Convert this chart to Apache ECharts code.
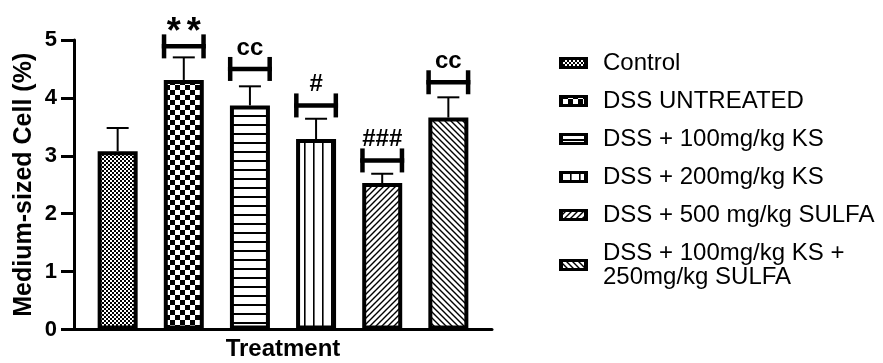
<!DOCTYPE html>
<html>
<head>
<meta charset="utf-8">
<script src="https://cdn.jsdelivr.net/npm/echarts@6/dist/echarts.min.js"></script>
<style>
  html, body { margin: 0; padding: 0; background: #fff; }
  #chart { width: 883px; height: 363px; }
</style>
</head>
<body>
<div id="chart"></div>
<script>
// Treatment groups (legend order) and their mean / SEM values
const treatments = [
  'Control',
  'DSS UNTREATED',
  'DSS + 100mg/kg KS',
  'DSS + 200mg/kg KS',
  'DSS + 500 mg/kg SULFA',
  'DSS + 100mg/kg KS +\n250mg/kg SULFA'
];
const meanValues = [3.08, 4.31, 3.87, 3.29, 2.53, 3.66];
const semValues = [0.40, 0.39, 0.33, 0.35, 0.16, 0.35];

// Significance markers: bracket level (y value) and label per group
const bracketLevels = [null, 4.89, 4.50, 3.87, 2.92, 4.27];
const bracketLabels = ['', '**', 'cc', '#', '###', 'cc'];

const yTicks = [0, 1, 2, 3, 4, 5];

const FONT = '"Liberation Sans", Arial, Helvetica, sans-serif';

// ---- hatch / checker fills ----
function makeTile(w, h, draw) {
  const c = document.createElement('canvas');
  c.width = w; c.height = h;
  const ctx = c.getContext('2d');
  ctx.fillStyle = '#fff';
  ctx.fillRect(0, 0, w, h);
  ctx.fillStyle = '#000';
  ctx.strokeStyle = '#000';
  draw(ctx, w, h);
  return { image: c, repeat: 'repeat' };
}

const fills = [
  // fine checker
  makeTile(4, 4, (ctx) => { ctx.fillRect(0, 0, 2, 2); ctx.fillRect(2, 2, 2, 2); }),
  // coarse checker
  makeTile(10, 10, (ctx) => { ctx.fillRect(0, 0, 5, 5); ctx.fillRect(5, 5, 5, 5); }),
  // horizontal lines
  makeTile(4, 9, (ctx) => { ctx.fillRect(0, 7, 4, 2); }),
  // vertical lines
  makeTile(9, 4, (ctx) => {
    ctx.fillRect(7, 0, 1, 4);
    ctx.fillStyle = '#666'; ctx.fillRect(8, 0, 1, 4);
  }),
  // forward diagonal
  makeTile(6, 6, (ctx, w, h) => {
    ctx.lineWidth = 1.4;
    ctx.beginPath();
    ctx.moveTo(0, h); ctx.lineTo(w, 0);
    ctx.moveTo(-1, 1); ctx.lineTo(1, -1);
    ctx.moveTo(w - 1, h + 1); ctx.lineTo(w + 1, h - 1);
    ctx.stroke();
  }),
  // backward diagonal
  makeTile(6, 6, (ctx, w, h) => {
    ctx.lineWidth = 1.4;
    ctx.beginPath();
    ctx.moveTo(0, 0); ctx.lineTo(w, h);
    ctx.moveTo(-1, h - 1); ctx.lineTo(1, h + 1);
    ctx.moveTo(w - 1, -1); ctx.lineTo(w + 1, 1);
    ctx.stroke();
  })
];

// Legend swatch: heavy black frame around a thin strip of the group's fill
const ICON_W = 29, ICON_H = 12;
function legendIcon(fill) {
  const c = document.createElement('canvas');
  c.width = ICON_W; c.height = ICON_H;
  const ctx = c.getContext('2d');
  ctx.fillStyle = '#000';
  ctx.fillRect(0, 0, ICON_W, ICON_H);
  ctx.save();
  ctx.translate(4, -1);
  ctx.fillStyle = ctx.createPattern(fill.image, 'repeat');
  ctx.fillRect(0, 4, ICON_W - 8, ICON_H - 6);
  ctx.restore();
  return 'image://' + c.toDataURL();
}

const BAR_W = 40;
const BAR_BORDER = 4;

const barSeries = treatments.map((name, i) => ({
  name: name,
  type: 'bar',
  barWidth: BAR_W,
  barGap: '-100%',
  data: [[i, meanValues[i]]],
  itemStyle: {
    color: fills[i],
    borderColor: '#000',
    borderWidth: BAR_BORDER
  },
  z: 3,
  silent: true
}));

const errorSeries = {
  type: 'custom',
  name: 'SEM',
  data: meanValues.map((m, i) => [i, m, m + semValues[i]]),
  z: 2,
  silent: true,
  renderItem(params, api) {
    const x = api.value(0);
    const base = api.coord([x, api.value(1)]);
    const top = api.coord([x, api.value(2)]);
    const cap = 11;
    const st = { stroke: '#000', lineWidth: 2 };
    return {
      type: 'group',
      children: [
        { type: 'line', shape: { x1: base[0], y1: base[1], x2: top[0], y2: top[1] }, style: st },
        { type: 'line', shape: { x1: top[0] - cap, y1: top[1], x2: top[0] + cap, y2: top[1] }, style: st }
      ]
    };
  }
};

// label text elements: asterisks are drawn larger and spread apart
function labelElements(text, cx, bracketTop) {
  if (text.indexOf('*') >= 0) {
    const step = 20;
    const start = cx - step * (text.length - 1) / 2;
    return text.split('').map((ch, k) => ({
      type: 'text',
      style: {
        x: start + k * step, y: bracketTop - 1,
        text: ch, align: 'center', verticalAlign: 'middle',
        fill: '#000', font: 'bold 36px ' + FONT
      }
    }));
  }
  return [{
    type: 'text',
    style: {
      x: cx, y: bracketTop + 3,
      text: text, align: 'center', verticalAlign: 'bottom',
      fill: '#000', font: 'bold 24px ' + FONT
    }
  }];
}

const bracketIdx = bracketLevels.map((v, i) => (v == null ? -1 : i)).filter(i => i >= 0);
const bracketSeries = {
  type: 'custom',
  name: 'Significance',
  data: bracketIdx.map(i => [i, bracketLevels[i]]),
  z: 4,
  silent: true,
  renderItem(params, api) {
    const p = api.coord([api.value(0), api.value(1)]);
    const half = (BAR_W + BAR_BORDER) / 2;
    const lw = 4.5;
    const hh = 12;
    const st = { stroke: '#000', lineWidth: lw };
    const xl = p[0] - half + lw / 2;
    const xr = p[0] + half - lw / 2;
    return {
      type: 'group',
      children: [
        { type: 'line', shape: { x1: p[0] - half, y1: p[1], x2: p[0] + half, y2: p[1] }, style: st },
        { type: 'line', shape: { x1: xl, y1: p[1] - hh, x2: xl, y2: p[1] + hh }, style: st },
        { type: 'line', shape: { x1: xr, y1: p[1] - hh, x2: xr, y2: p[1] + hh }, style: st }
      ].concat(labelElements(bracketLabels[bracketIdx[params.dataIndex]], p[0], p[1] - hh))
    };
  }
};

const chart = echarts.init(document.getElementById('chart'), null, { renderer: 'canvas' });
chart.setOption({
  animation: false,
  backgroundColor: '#fff',
  grid: {
    left: 74, top: 40, width: 418, height: 289.5,
    containLabel: false, outerBoundsMode: 'none'
  },
  legend: {
    data: treatments.map((name, i) => ({ name: name, icon: legendIcon(fills[i]) })),
    orient: 'vertical',
    left: 559,
    top: 51,
    padding: 0,
    itemWidth: ICON_W,
    itemHeight: ICON_H,
    itemGap: 14,
    selectedMode: false,
    itemStyle: { borderWidth: 0 },
    textStyle: {
      fontFamily: FONT,
      fontSize: 24,
      lineHeight: 24,
      color: '#000',
      padding: [0, 0, 0, 10]
    }
  },
  xAxis: {
    type: 'value',
    min: -0.66,
    max: 5.66,
    name: 'Treatment',
    nameLocation: 'middle',
    nameGap: 8,
    nameTextStyle: { fontFamily: FONT, fontWeight: 'bold', fontSize: 24, color: '#000', verticalAlign: 'top' },
    axisLine: { show: true, onZero: false, lineStyle: { color: '#000', width: 3 } },
    axisTick: { show: false },
    axisLabel: { show: false },
    splitLine: { show: false }
  },
  yAxis: {
    type: 'value',
    min: yTicks[0],
    max: yTicks[yTicks.length - 1],
    interval: 1,
    name: 'Medium-sized Cell (%)',
    nameLocation: 'middle',
    nameGap: 37,
    nameTextStyle: { fontFamily: FONT, fontWeight: 'bold', fontSize: 25, color: '#000' },
    axisLine: { show: true, onZero: false, lineStyle: { color: '#000', width: 3 } },
    axisTick: { show: true, length: 13, lineStyle: { color: '#000', width: 3 } },
    axisLabel: { margin: 17, fontFamily: FONT, fontWeight: 'bold', fontSize: 22, color: '#000' },
    splitLine: { show: false }
  },
  series: [...barSeries, errorSeries, bracketSeries]
});
</script>
</body>
</html>
